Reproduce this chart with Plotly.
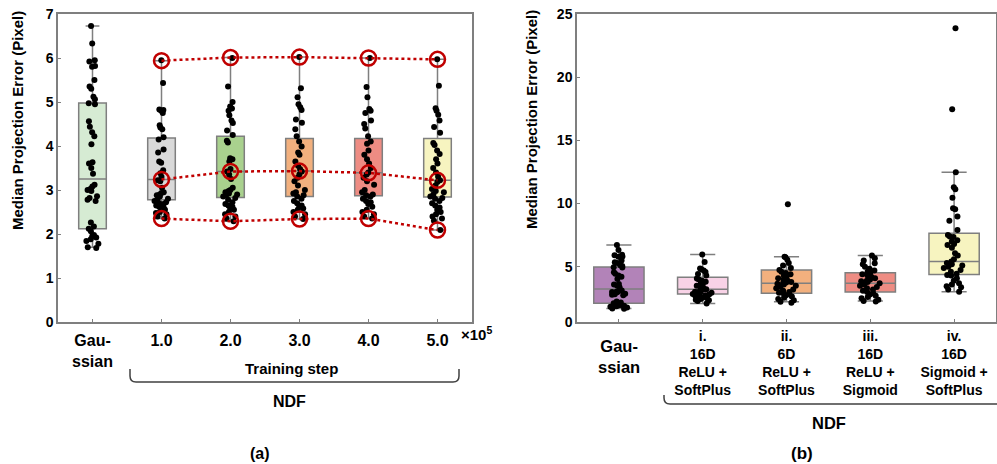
import plotly.graph_objects as go

# ---------------- data ----------------
# Panel (a): Gaussian baseline and NDF at training steps (x10^5)
a_categories = ["Gau-<br>ssian", "1.0", "2.0", "3.0", "4.0", "5.0"]
a_colors = ["#d6ebd3", "#d9d9d9", "#a9d18e", "#f2b07e", "#ee8c83", "#f7f4c0"]
# box statistics: lower whisker, q1, median, q3, upper whisker
a_lower = [1.70, 2.35, 2.29, 2.34, 2.35, 2.09]
a_q1 = [2.12, 2.78, 2.83, 2.85, 2.87, 2.84]
a_median = [3.25, 3.24, 3.42, 3.43, 3.39, 3.22]
a_q3 = [4.98, 4.18, 4.22, 4.17, 4.17, 4.17]
a_upper = [6.73, 5.94, 6.01, 6.02, 6.00, 5.97]

gaussian_pts = [6.73, 6.33, 5.95, 5.92, 5.82, 5.80, 5.50, 5.35, 5.30, 5.12, 5.06, 4.97,
                4.95, 4.56, 4.44, 4.31, 4.22, 4.04, 3.63, 3.60, 3.50, 3.37, 3.12, 3.08,
                3.03, 3.00, 2.98, 2.86, 2.82, 2.78, 2.75, 2.26, 2.17, 2.12, 2.06, 1.98,
                1.95, 1.92, 1.88, 1.84, 1.78, 1.70, 1.68]
step1_pts = [5.95, 5.43, 4.83, 4.82, 4.80, 4.75, 4.47, 4.42, 4.38, 4.20, 4.15, 3.92,
             3.85, 3.65, 3.62, 3.45, 3.38, 3.30, 3.22, 3.20, 3.05, 2.95, 2.93, 2.90,
             2.88, 2.85, 2.80, 2.78, 2.75, 2.72, 2.70, 2.68, 2.65, 2.62, 2.60, 2.58,
             2.55, 2.50, 2.48, 2.45, 2.40, 2.35]
step2_pts = [6.00, 5.35, 5.00, 4.90, 4.85, 4.80, 4.70, 4.58, 4.52, 4.35, 4.25, 4.12,
             4.08, 3.72, 3.70, 3.65, 3.48, 3.42, 3.35, 3.25, 3.05, 3.00, 2.98, 2.95,
             2.92, 2.90, 2.88, 2.85, 2.82, 2.78, 2.72, 2.68, 2.65, 2.62, 2.58, 2.55,
             2.50, 2.45, 2.40, 2.35, 2.29]
step3_pts = [6.02, 5.31, 5.11, 4.95, 4.88, 4.82, 4.60, 4.53, 4.38, 4.22, 4.10, 3.99,
             3.85, 3.80, 3.65, 3.55, 3.48, 3.42, 3.35, 3.28, 3.20, 3.10, 3.00, 2.95,
             2.92, 2.88, 2.85, 2.80, 2.75, 2.70, 2.65, 2.62, 2.58, 2.55, 2.50, 2.45,
             2.40, 2.34]
step4_pts = [6.00, 5.34, 5.11, 4.84, 4.80, 4.75, 4.58, 4.50, 4.40, 4.22, 4.10, 4.05,
             3.90, 3.80, 3.70, 3.60, 3.50, 3.40, 3.35, 3.28, 3.20, 3.12, 3.00, 2.95,
             2.90, 2.88, 2.85, 2.80, 2.75, 2.72, 2.68, 2.62, 2.55, 2.50, 2.45, 2.40,
             2.35]
step5_pts = [5.97, 5.37, 4.86, 4.80, 4.71, 4.58, 4.43, 4.30, 4.07, 4.02, 3.90, 3.82,
             3.70, 3.60, 3.50, 3.40, 3.30, 3.22, 3.18, 3.10, 3.02, 2.98, 2.95, 2.90,
             2.85, 2.82, 2.80, 2.75, 2.70, 2.65, 2.60, 2.55, 2.50, 2.45, 2.40, 2.35,
             2.30, 2.09]
a_points = [gaussian_pts, step1_pts, step2_pts, step3_pts, step4_pts, step5_pts]

# Panel (b): Gaussian baseline and NDF variants
b_categories = ["i.<br>16D<br>ReLU +<br>SoftPlus", "ii.<br>6D<br>ReLU +<br>SoftPlus",
                "iii.<br>16D<br>ReLU +<br>Sigmoid", "iv.<br>16D<br>Sigmoid +<br>SoftPlus"]
b_gauss_label = "Gau-<br>ssian"
b_colors = ["#b283b8", "#f8d2e6", "#f2b07e", "#ee8c83", "#f7f4c0"]
b_lower = [1.70, 2.09, 2.24, 2.29, 3.03]
b_q1 = [2.12, 2.84, 2.90, 3.00, 4.38]
b_median = [3.25, 3.22, 3.69, 3.69, 5.41]
b_q3 = [4.98, 4.17, 4.75, 4.53, 7.65]
b_upper = [6.73, 5.97, 5.80, 5.90, 12.47]

var2_pts = [9.94, 5.80, 5.75, 5.55, 5.30, 5.10, 4.90, 4.75, 4.60, 4.50, 4.40, 4.30,
            4.20, 4.10, 4.00, 3.90, 3.80, 3.75, 3.70, 3.65, 3.60, 3.50, 3.40, 3.30,
            3.20, 3.10, 3.00, 2.95, 2.90, 2.85, 2.75, 2.65, 2.55, 2.45, 2.35, 2.24, 2.15]
var3_pts = [5.90, 5.67, 5.50, 5.27, 5.20, 5.00, 4.85, 4.70, 4.60, 4.50, 4.40, 4.30,
            4.20, 4.10, 4.00, 3.90, 3.85, 3.80, 3.70, 3.60, 3.50, 3.40, 3.30, 3.20,
            3.10, 3.00, 2.90, 2.80, 2.70, 2.60, 2.50, 2.40, 2.30, 2.25]
var4_pts = [23.87, 17.46, 12.47, 11.30, 11.13, 10.47, 9.63, 9.55, 8.97, 8.65, 7.91,
            7.52, 7.40, 7.35, 7.10, 6.99, 6.80, 6.72, 6.50, 6.07, 5.90, 5.60, 5.41,
            5.30, 5.20, 5.10, 5.00, 4.90, 4.75, 4.60, 4.45, 4.35, 4.30, 4.10, 3.90,
            3.69, 3.60, 3.45, 3.38, 3.20, 3.03]
b_points = [gaussian_pts, step5_pts, var2_pts, var3_pts, var4_pts]

y_title = "Median Projection Error (Pixel)"

# ---------------- figure ----------------
W, H = 997, 464
FONT = "Liberation Sans, Arial, sans-serif"
BOXLINE = "#7f7f7f"
RED = "#c00000"


def px(x):
    return x / W


def py(y):
    return 1 - y / H


fig = go.Figure()


def add_panel(xa, ya, stats, colors, points, width, jitter):
    lower, q1, med, q3, upper = stats
    for i, col in enumerate(colors):
        fig.add_trace(go.Box(
            x=[i], q1=[q1[i]], median=[med[i]], q3=[q3[i]],
            lowerfence=[lower[i]], upperfence=[upper[i]],
            fillcolor=col, line=dict(color=BOXLINE, width=1.5),
            width=width, whiskerwidth=0.5, boxpoints=False,
            xaxis=xa, yaxis=ya, showlegend=False, hoverinfo="skip"))
    for i, pts in enumerate(points):
        fig.add_trace(go.Box(
            x=[i] * len(pts), y=pts, boxpoints="all", jitter=jitter, pointpos=0,
            width=width, fillcolor="rgba(0,0,0,0)",
            line=dict(color="rgba(0,0,0,0)", width=0),
            marker=dict(color="black", size=6),
            xaxis=xa, yaxis=ya, showlegend=False, hoverinfo="skip"))


add_panel("x", "y", (a_lower, a_q1, a_median, a_q3, a_upper), a_colors, a_points, 0.4, 0.55)
add_panel("x2", "y2", (b_lower, b_q1, b_median, b_q3, b_upper), b_colors, b_points, 0.6, 0.42)

# red circles + dotted lines for NDF training steps (max, median, min)
steps_x = list(range(1, len(a_categories)))
for series in (a_upper[1:], a_median[1:], a_lower[1:]):
    fig.add_trace(go.Scatter(
        x=steps_x, y=series, mode="lines+markers",
        line=dict(color=RED, width=2.5, dash="dot"),
        marker=dict(symbol="circle-open", size=15, color=RED, line=dict(width=2.5, color=RED)),
        xaxis="x", yaxis="y", showlegend=False, hoverinfo="skip"))

axis_common = dict(showline=True, mirror=True, linecolor=BOXLINE, linewidth=1.5,
                   showgrid=False, zeroline=False, ticks="inside", ticklen=3,
                   tickcolor=BOXLINE, automargin=False)

ydom = [py(322), py(14)]
fig.update_layout(
    width=W, height=H, margin=dict(l=0, r=0, t=0, b=0),
    paper_bgcolor="white", plot_bgcolor="white", template="none",
    font=dict(family=FONT, color="black"),
    boxmode="overlay",
    xaxis=dict(domain=[px(58), px(472)], range=[-0.5, 5.5], tickvals=list(range(6)),
               ticktext=a_categories, tickfont=dict(size=16, weight="bold"),
               ticklabelstandoff=3, **axis_common),
    yaxis=dict(domain=ydom, range=[0, 7], tickvals=list(range(8)),
               tickfont=dict(size=14, weight="bold"), **axis_common),
    xaxis2=dict(domain=[px(577), px(996)], range=[-0.5, 4.5], tickvals=[1, 2, 3, 4],
                ticktext=b_categories, tickfont=dict(size=14, weight="bold"),
                minor=dict(tickvals=[0], ticks="inside", ticklen=3, tickcolor=BOXLINE),
                anchor="y2", **axis_common),
    yaxis2=dict(domain=ydom, range=[0.63, 25], tickvals=[0.63, 5, 10, 15, 20, 25],
                ticktext=["0", "5", "10", "15", "20", "25"],
                tickfont=dict(size=14, weight="bold"), anchor="x2", **axis_common),
)

bold = lambda size: dict(size=size, weight="bold", family=FONT, color="black")
ann = [
    dict(x=px(17), y=py(121), text=y_title, textangle=-90, font=bold(15)),
    dict(x=px(532), y=py(120), text=y_title, textangle=-90, font=bold(15)),
    dict(x=px(476), y=py(333), text="×10<sup>5</sup>", font=bold(15)),
    dict(x=px(291), y=py(368), text="Training step", font=bold(15)),
    dict(x=px(289), y=py(401), text="NDF", font=bold(16)),
    dict(x=px(260), y=py(453), text="(a)", font=bold(16)),
    dict(x=0, xref="x2", y=py(356), text=b_gauss_label, font=bold(16.5)),
    dict(x=px(829), y=py(423), text="NDF", font=bold(16.5)),
    dict(x=px(802), y=py(453), text="(b)", font=bold(17)),
]
for a in ann:
    a.setdefault("xref", "paper")
    a.setdefault("yref", "paper")
    a["showarrow"] = False
    a["xanchor"] = "center"
    a["yanchor"] = "middle"
fig.update_layout(annotations=ann)


def bracket(x0, x1, ytop, ybot, right_end=True):
    r = 6
    p = f"M{px(x0)},{py(ytop)} L{px(x0)},{py(ybot - r)} Q{px(x0)},{py(ybot)} {px(x0 + r)},{py(ybot)}"
    if right_end:
        p += f" L{px(x1 - r)},{py(ybot)} Q{px(x1)},{py(ybot)} {px(x1)},{py(ybot - r)} L{px(x1)},{py(ytop)}"
    else:
        p += f" L{px(x1)},{py(ybot)}"
    return dict(type="path", path=p, xref="paper", yref="paper",
                line=dict(color="#404040", width=1.5))


fig.update_layout(shapes=[bracket(130, 459, 369, 382), bracket(664, 997, 395, 404, False)])

fig.write_html("out.html")
